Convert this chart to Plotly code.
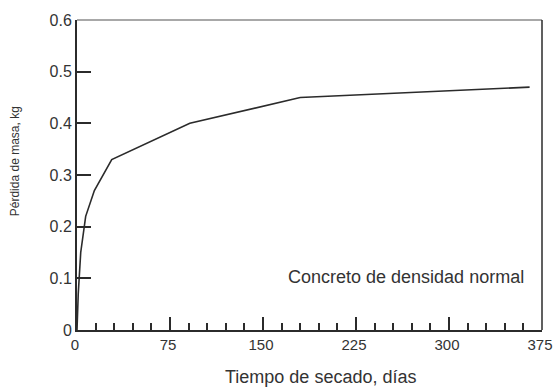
import plotly.graph_objects as go

dias = [0, 1, 3, 7, 14, 28, 91, 180, 365]
perdida = [0, 0.07, 0.15, 0.22, 0.27, 0.33, 0.40, 0.45, 0.47]
x_ticks = [0, 75, 150, 225, 300, 375]
y_ticks = [0, 0.1, 0.2, 0.3, 0.4, 0.5, 0.6]
y_labels = ["0", "0.1", "0.2", "0.3", "0.4", "0.5", "0.6"]

dark = "#2b2b2b"
txt = "#333333"
font = "Liberation Sans, Arial, sans-serif"

fig = go.Figure()
fig.add_trace(go.Scatter(x=dias, y=perdida, mode="lines",
                         line=dict(color=dark, width=1.6), showlegend=False))

fig.update_layout(
    width=553, height=387, autosize=False,
    margin=dict(l=77, r=11, t=20, b=57, autoexpand=False),
    plot_bgcolor="white", paper_bgcolor="white",
    font=dict(family=font, size=12, color=dark),
    xaxis=dict(range=[0, 375], tickvals=x_ticks, ticks="inside", ticklen=13,
               tickwidth=1.5, tickcolor=dark, showgrid=False, zeroline=False,
               showline=True, linecolor=dark, linewidth=2, automargin=False,
               ticklabeloverflow="allow", ticklabelshift=-2,
               minor=dict(dtick=15, tick0=0, ticks="inside", ticklen=7,
                          tickwidth=1.5, tickcolor=dark, showgrid=False),
               tickfont=dict(size=15, color=txt), fixedrange=True),
    yaxis=dict(range=[0, 0.6], tickvals=y_ticks, ticktext=y_labels,
               ticks="inside", ticklen=14, tickwidth=1.5, tickcolor=dark,
               showgrid=False, zeroline=False, showline=True, linecolor=dark,
               linewidth=2, automargin=False, ticklabeloverflow="allow",
               tickfont=dict(size=16, color=txt), fixedrange=True),
)

fig.add_shape(type="line", xref="paper", yref="paper", x0=0, x1=1, y0=1, y1=1,
              line=dict(color="#a8a8a8", width=2))
fig.add_shape(type="line", xref="paper", yref="paper", x0=1, x1=1, y0=0, y1=1,
              line=dict(color=dark, width=1.5))

fig.add_annotation(text="Concreto de densidad normal", xref="paper", yref="paper",
                   x=(526 - 77) / 465, y=(329.5 - 277) / 309.5, xanchor="right",
                   yanchor="middle", showarrow=False, font=dict(size=18, color=txt))
fig.add_annotation(text="Tiempo de secado, días", xref="paper", yref="paper",
                   x=(320 - 77) / 465, y=(329.5 - 376) / 309.5, xanchor="center",
                   yanchor="middle", showarrow=False, font=dict(size=18, color=txt))
fig.add_annotation(text="Pérdida de masa, kg", xref="paper", yref="paper",
                   x=(15 - 77) / 465, y=(329.5 - 161) / 309.5, xanchor="center",
                   yanchor="middle", textangle=-90,
                   showarrow=False, font=dict(size=12, color=txt))

fig.write_html("out.html", config={"displayModeBar": False, "responsive": False},
               post_script="document.body.style.margin='0';document.body.style.overflow='hidden';")
